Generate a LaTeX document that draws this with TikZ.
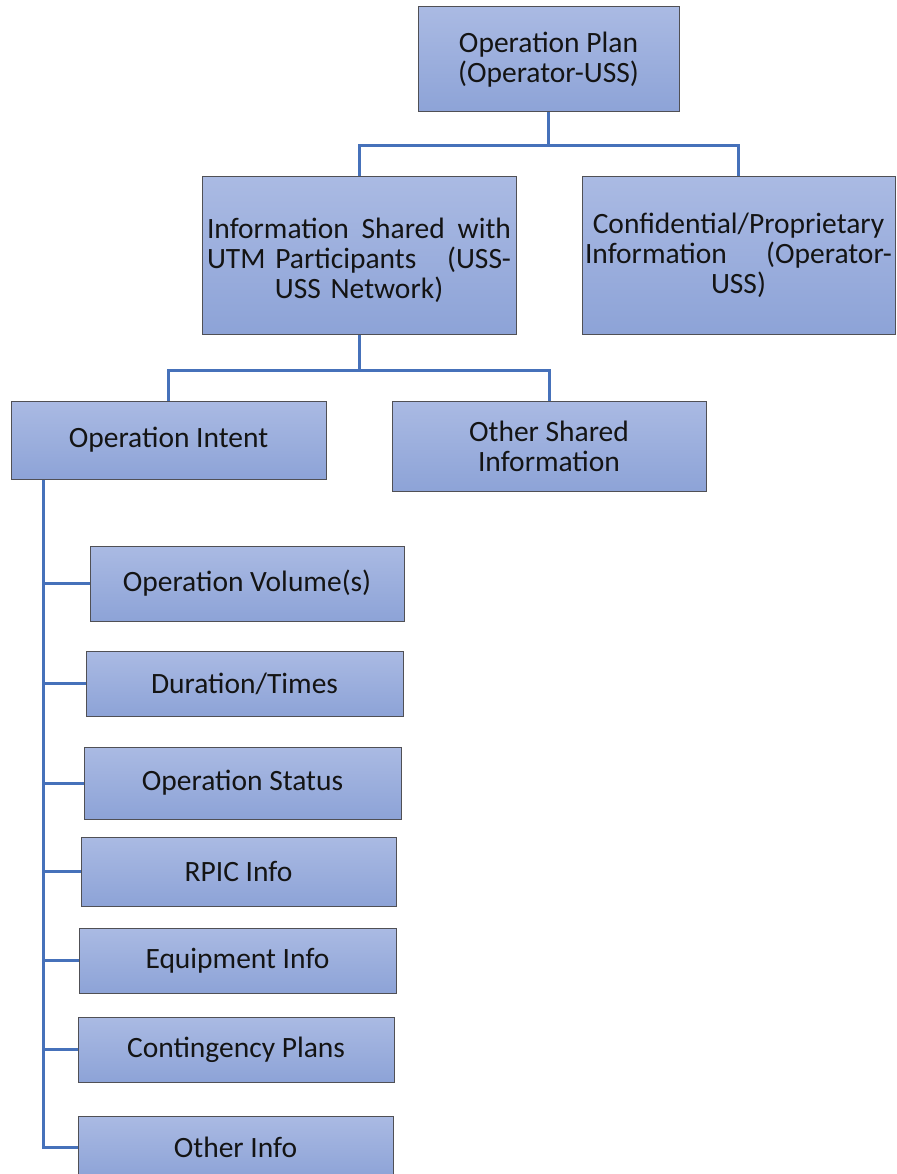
\documentclass[tikz,border=0pt]{standalone}
\usepackage{fontspec}
\setmainfont{Carlito}
\definecolor{boxtop}{RGB}{170,186,227}
\definecolor{boxbottom}{RGB}{141,163,215}
\definecolor{boxedge}{RGB}{80,80,85}
\definecolor{linkblue}{RGB}{70,113,186}
\definecolor{ink}{RGB}{20,20,20}
\begin{document}
\begin{tikzpicture}[x=1pt,y=-1pt,
  box/.style={draw=boxedge, line width=1pt, top color=boxtop, bottom color=boxbottom,
    inner sep=0pt, align=center, text=ink, font=\fontsize{29.5}{30}\selectfont},
  link/.style={draw=linkblue, line width=3pt}]
\useasboundingbox (0,0) rectangle (896,1174);
\clip (0,0) rectangle (896,1174);

% top level
\node[box, minimum width=261pt, minimum height=105pt]
  (plan) at (548.5,59.5) {Operation Plan\\(Operator-USS)};

% second level (justified lines, last line centred)
\node[box, minimum width=314pt, minimum height=157pt, text width=304pt]
  (shared) at (359,255.5)
  {\rule{0pt}{30pt}\makebox[304pt]{Information\hfill Shared\hfill with}\\
   \makebox[304pt]{UTM Participants\hfill(USS-}\\USS Network)};
\node[box, minimum width=313pt, minimum height=157pt, text width=307pt]
  (conf) at (738.5,255.5)
  {Confidential/Proprietary\\
   \makebox[307pt]{Information\hfill(Operator-}\\USS)};

% third level
\node[box, minimum width=315pt, minimum height=78pt]
  (intent) at (168.5,440) {Operation Intent};
\node[box, minimum width=314pt, minimum height=90pt]
  (othershared) at (549,446) {Other Shared\\Information};

% operation intent items
\node[box, minimum width=314pt, minimum height=75pt] (vol)    at (247,583.5)   {Operation Volume(s)};
\node[box, minimum width=317pt, minimum height=65pt] (dur)    at (244.5,683.5) {Duration/Times};
\node[box, minimum width=317pt, minimum height=72pt] (status) at (242.5,783)   {Operation Status};
\node[box, minimum width=315pt, minimum height=69pt] (rpic)   at (238.5,871.5) {RPIC Info};
\node[box, minimum width=317pt, minimum height=65pt] (equip)  at (237.5,960.5) {Equipment Info};
\node[box, minimum width=316pt, minimum height=65pt] (cont)   at (236,1049.5)  {Contingency Plans};
\node[box, minimum width=315pt, minimum height=62pt] (other)  at (235.5,1147)  {Other Info};

% connectors
\draw[link] (plan.south) -- ++(0,33) coordinate (j1);
\draw[link] (shared.north) |- (j1) -| (conf.north);
\draw[link] (shared.south) -- ++(0,36) coordinate (j2);
\draw[link] (intent.north) |- (j2) -| (othershared.north);
\coordinate (spine) at (43,0);
\draw[link] (spine |- intent.south) |- (other.west);
\foreach \n in {vol,dur,status,rpic,equip,cont}
  \draw[link] (spine |- \n.west) -- (\n.west);
\end{tikzpicture}
\end{document}
